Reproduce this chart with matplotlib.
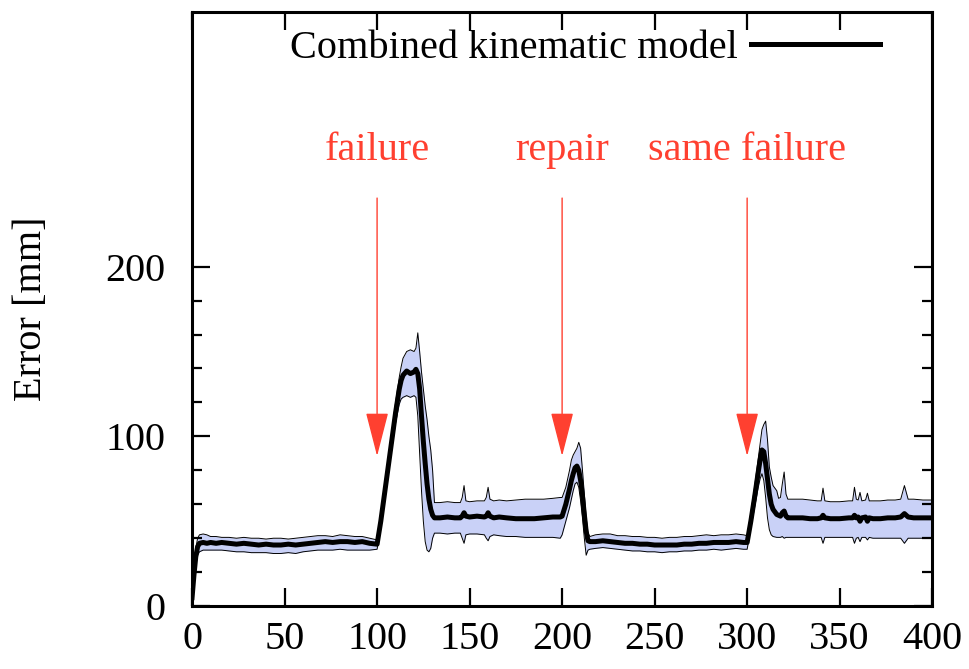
import numpy as np
import matplotlib.pyplot as plt
from matplotlib.ticker import FixedLocator, MultipleLocator

# time steps (sampled where the curves change)
t = [0, 1, 2, 3, 4, 6, 8, 10, 13, 16, 20, 24, 28, 32, 36, 40, 44, 48, 52, 56, 60, 64, 68, 72, 76, 80, 84, 88, 92, 96, 100,
     102, 104, 106, 108, 110, 112, 113, 114, 116, 118, 120, 121, 122, 123, 124, 125, 126, 127, 128, 129, 130, 131,
     134, 138, 142, 145, 146, 147, 148, 150, 154, 158, 159, 160, 161, 163, 166, 170, 175, 180, 185, 190, 195, 199,
     200, 202, 204, 205, 206, 207, 208, 209, 210, 211, 212, 213, 214, 215,
     218, 222, 226, 230, 234, 238, 242, 246, 250, 254, 258, 262, 266, 270, 274, 278, 282, 286, 290, 294, 298, 300,
     302, 304, 306, 307, 308, 309, 310, 311, 312, 313, 314, 316, 317, 318, 319, 320, 321, 322,
     326, 330, 334, 338, 340, 341, 342, 345, 350, 355, 357, 358, 359, 360, 361, 362, 364, 365, 366, 368, 372, 376, 380,
     383, 385, 387, 390, 395, 400]

err_mean = [5, 18, 29, 35, 37, 37.5, 37, 37.5, 37, 37.5, 37, 36.5, 37, 36.5, 36, 36.5, 36, 36, 36.5, 36, 36.5, 37, 37.5, 38, 37.5, 38, 38, 37.5, 38, 37, 36.5,
            50, 66, 82, 98, 114, 128, 133, 136, 138.5, 137, 138, 139.5, 137, 128, 112, 97, 84, 72, 63, 57, 53.5, 52,
            52, 52.5, 52, 52, 53, 55, 53, 52.5, 53, 52.5, 53, 55, 53, 52, 52.5, 52, 51.5, 51.5, 51.5, 52, 52.5, 52.5,
            53, 60, 69, 74, 78, 81.5, 82.5, 80, 74, 65, 54, 44, 38.5, 38,
            38, 38.5, 38, 37.5, 37, 37, 36.5, 36.5, 36, 36, 36, 36, 36.5, 36.5, 37, 37, 37.5, 37.5, 37.5, 38, 37.5, 37.5,
            50, 64, 79, 86, 92, 91, 84, 75, 66, 60, 57, 54, 53.5, 53, 55, 56, 53, 52,
            52, 52, 51.5, 51.5, 52, 53.5, 52, 51.5, 51.5, 52, 52, 53.5, 52, 52.5, 50, 52, 52.5, 50, 52, 51.5, 51.5, 52, 52,
            52.5, 54.5, 52.5, 52, 52, 52]

err_upper = [6, 22, 34, 40, 42, 42.5, 42, 41, 41, 40.5, 40.5, 40, 40.5, 40, 40, 39.5, 40, 40, 39.5, 40, 40.5, 41, 41.5, 41.5, 41, 42, 41.5, 41, 41, 40, 39,
             55, 71, 87, 103, 120, 135, 141, 146, 150, 151, 150, 152, 161, 150, 138, 128, 118, 110, 100, 92, 80, 61,
             61, 61.5, 61, 61, 64, 71, 62, 61.5, 62, 62, 64, 70, 63, 62, 62.5, 62, 62.5, 63, 63, 63, 63.5, 64,
             64, 70, 80, 86, 89, 91, 93, 96.5, 93, 80, 66, 52, 43, 41,
             42, 42.5, 42.5, 41.5, 41.5, 41, 41, 40.5, 40.5, 40, 40.5, 40.5, 41, 41, 41.5, 42, 41.5, 42, 42, 42.5, 42, 41.5,
             55, 70, 87, 96, 104, 107, 109, 98, 82, 76, 71, 68, 63.5, 64, 72, 79, 66, 63,
             63, 63, 62.5, 62, 62, 69.5, 62, 61.5, 61.5, 62, 62, 70, 63, 62.5, 67, 62, 62.5, 66.5, 62, 62, 62, 62.5, 62.5,
             63, 71, 63, 63, 62.5, 62.5]

err_lower = [4, 14, 24, 30, 32, 33, 33, 33, 33, 33, 32.5, 32, 32, 31.5, 31.5, 31.5, 31, 31, 31.5, 31, 32, 32.5, 33, 33, 33, 33.5, 33, 33, 33, 33, 33.5,
             46, 61, 77, 93, 108, 119, 122, 123, 124, 123, 124, 123, 112, 90, 68, 50, 38, 33, 32, 34, 40, 43,
             43, 42.5, 43, 43, 40, 37, 42, 42.5, 42.5, 42, 40, 38.5, 41, 42, 41.5, 41, 41, 40.5, 40.5, 40.5, 40.5, 40,
             42, 50, 58, 63, 68, 72, 73, 70, 62, 52, 40, 30, 33, 33.5,
             34, 34.5, 34, 33.5, 33, 32.5, 32.5, 32, 32, 31.5, 32, 32, 32.5, 32.5, 33, 33, 33.5, 33, 33.5, 34, 33.5, 33.5,
             46, 58, 70, 75, 78, 74, 64, 52, 45, 42, 41, 40.5, 40.5, 40.5, 41, 40, 40.5, 40.5,
             40.5, 40.5, 40.5, 40.5, 40.5, 37, 40.5, 40.5, 40.5, 40.5, 40.5, 37, 40, 40.5, 38, 40.5, 40.5, 39, 40.5, 40, 40, 40, 40,
             40, 37, 40, 40, 40, 40]

events_x = [100, 200, 300]
events_txt = ['failure', 'repair', 'same failure']

plt.rcParams['font.family'] = ['Liberation Serif', 'DejaVu Serif']
plt.rcParams['font.size'] = 29

red = '#ff4030'

fig = plt.figure(figsize=(9.7, 6.69), dpi=100)
ax = fig.add_subplot(111)
fig.subplots_adjust(left=0.198, right=0.961, bottom=0.094, top=0.982)

ax.fill_between(t, err_lower, err_upper, color='#c9d1f7', lw=0)
ax.plot(t, err_upper, c='k', lw=0.7)
ax.plot(t, err_lower, c='k', lw=0.7)
ax.plot(t, err_mean, c='k', lw=3.6, label='Combined kinematic model')

for ex, txt in zip(events_x, events_txt):
    ax.annotate('', xy=(ex, 88.4), xytext=(ex, 240.4),
                arrowprops=dict(arrowstyle='-|>,head_length=2.8,head_width=0.72',
                                mutation_scale=10, color=red, lw=1.0,
                                shrinkA=0, shrinkB=0))
    ax.text(ex, 268.5, txt, color=red, ha='center', va='center')

ax.set_xlim(0, 400)
ax.set_ylim(0, 350)
ax.xaxis.set_major_locator(MultipleLocator(50))
ax.yaxis.set_major_locator(FixedLocator([0, 100, 200]))
ax.yaxis.set_minor_locator(FixedLocator([v for v in range(20, 200, 20) if v % 100 != 0]))
ax.set_ylabel('Error [mm]', labelpad=40)

ax.tick_params(which='both', direction='in', top=True, right=True, width=1.6)
ax.tick_params(which='major', length=13)
ax.tick_params(which='minor', length=7)
ax.tick_params(axis='x', pad=11)
ax.tick_params(axis='y', pad=19)
for s in ax.spines.values():
    s.set_linewidth(2.2)

ax.legend(loc='center right', bbox_to_anchor=(0.93, 0.939), markerfirst=False,
          frameon=False, borderpad=0, borderaxespad=0, handlelength=3.2,
          handletextpad=0.35)

fig.savefig('out.png', dpi=100)
